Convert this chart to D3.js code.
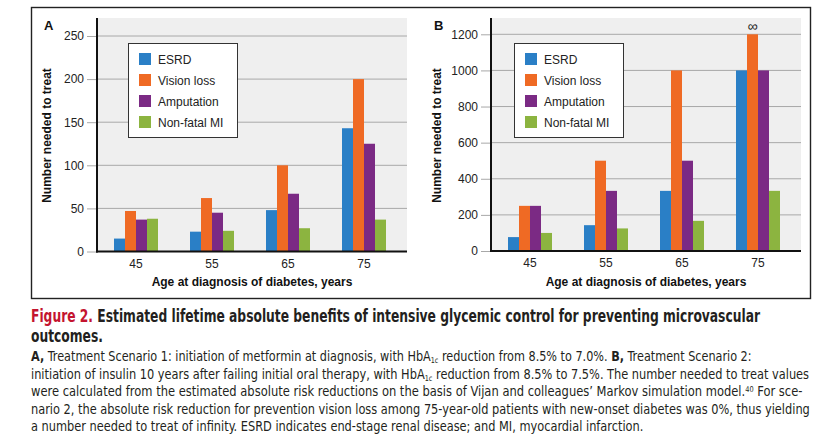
<!DOCTYPE html>
<html><head><meta charset="utf-8">
<script src="https://cdn.jsdelivr.net/npm/d3@7"></script>
<style>
html,body{margin:0;padding:0;background:#fff;}
svg{display:block;}
</style></head>
<body>
<svg id="chart" width="834" height="444"></svg>
<script>
// ---- data ----
const ages = ["45", "55", "65", "75"];
const seriesNames = ["ESRD", "Vision loss", "Amputation", "Non-fatal MI"];
const seriesColors = ["#2a7fc6", "#ef6a24", "#7b2a84", "#8cb440"];

const esrdA = [15, 23, 48, 143];
const visionA = [47, 62, 100, 200];
const amputationA = [37, 45, 67, 125];
const miA = [38, 24, 27, 37];

const esrdB = [77, 143, 333, 1000];
const visionB = [250, 500, 1000, 1200];
const amputationB = [250, 333, 500, 1000];
const miB = [100, 125, 167, 333];

const ticksA = [0, 50, 100, 150, 200, 250];
const ticksB = [0, 200, 400, 600, 800, 1000, 1200];

const panelLabels = ["A", "B"];
const yTitle = "Number needed to treat";
const xTitle = "Age at diagnosis of diabetes, years";
const infinityNote = { age: "75", series: "Vision loss", text: "\u221E" };

// ---- drawing ----
const svg = d3.select("#chart");
const chartFont = "'Liberation Sans', Arial, Helvetica, sans-serif";

svg.append("rect").attr("x", 31.5).attr("y", 7.5).attr("width", 779).attr("height", 291)
  .attr("fill", "none").attr("stroke", "#222").attr("stroke-width", 1.4);

const panels = [
  { label: panelLabels[0], series: [esrdA, visionA, amputationA, miA], ticks: ticksA,
    axisX: 97, band: [98, 402], bgRight: 407, y0: 251.5, yTopPos: 36, legendX: 128, labelX: 44, titleX: 47 },
  { label: panelLabels[1], series: [esrdB, visionB, amputationB, miB], ticks: ticksB,
    axisX: 491, band: [492, 796], bgRight: 801, y0: 251, yTopPos: 34.3, legendX: 514, labelX: 434, titleX: 437 }
];

panels.forEach(p => {
  const g = svg.append("g").attr("font-family", chartFont);
  const yMax = p.ticks[p.ticks.length - 1];
  const y = d3.scaleLinear().domain([0, yMax]).range([p.y0, p.yTopPos]);
  const x0 = d3.scaleBand().domain(ages).range(p.band).paddingInner(0).paddingOuter(0);
  const groupW = 44;
  const x1 = d3.scaleBand().domain(seriesNames)
    .range([(x0.bandwidth() - groupW) / 2, (x0.bandwidth() + groupW) / 2]);

  // background
  g.append("rect").attr("x", p.axisX).attr("y", 18).attr("width", p.bgRight - p.axisX)
    .attr("height", p.y0 - 18).attr("fill", "#efefef");

  // gridlines
  g.append("g").selectAll("line").data(p.ticks.filter(t => t > 0)).join("line")
    .attr("x1", p.axisX).attr("x2", p.bgRight)
    .attr("y1", d => y(d)).attr("y2", d => y(d))
    .attr("stroke", "#a8a8a8").attr("stroke-width", 1);

  // y axis ticks + labels
  const yAxis = d3.axisLeft(y).tickValues(p.ticks).tickSize(10).tickPadding(3).tickFormat(d3.format("d"));
  const ya = g.append("g").attr("transform", `translate(${p.axisX},0)`).call(yAxis);
  ya.select(".domain").remove();
  ya.selectAll(".tick line").attr("stroke", "#a8a8a8");
  ya.selectAll(".tick text").attr("font-size", 12).attr("fill", "#222").attr("font-family", chartFont);

  // bars
  const rows = [];
  ages.forEach((a, i) => seriesNames.forEach((s, j) => rows.push({ age: a, series: s, value: p.series[j][i], color: seriesColors[j] })));
  g.append("g").selectAll("rect").data(rows).join("rect")
    .attr("x", d => x0(d.age) + x1(d.series))
    .attr("width", x1.bandwidth())
    .attr("y", d => y(d.value))
    .attr("height", d => p.y0 - y(d.value))
    .attr("fill", d => d.color);

  // axis lines
  g.append("line").attr("x1", p.axisX).attr("x2", p.axisX).attr("y1", 18).attr("y2", p.y0 + 1)
    .attr("stroke", "#111").attr("stroke-width", 2);
  g.append("line").attr("x1", p.axisX - 1).attr("x2", p.bgRight).attr("y1", p.y0).attr("y2", p.y0)
    .attr("stroke", "#111").attr("stroke-width", 2);

  // x axis labels
  const xAxis = d3.axisBottom(x0).tickSize(0).tickPadding(0);
  const xa = g.append("g").attr("transform", `translate(0,${p.y0})`).call(xAxis);
  xa.select(".domain").remove();
  xa.selectAll(".tick text").attr("font-size", 12).attr("fill", "#222").attr("font-family", chartFont)
    .attr("dy", null).attr("y", 16);

  // titles
  g.append("text").attr("x", (p.axisX + p.bgRight) / 2).attr("y", 286).attr("text-anchor", "middle")
    .attr("font-size", 12).attr("font-weight", "bold").attr("fill", "#111").text(xTitle);
  g.append("text").attr("transform", `translate(${p.titleX + 4},135.5) rotate(-90)`).attr("text-anchor", "middle")
    .attr("font-size", 12).attr("font-weight", "bold").attr("fill", "#111").text(yTitle);
  g.append("text").attr("x", p.labelX).attr("y", 30).attr("font-size", 13).attr("font-weight", "bold")
    .attr("fill", "#111").text(p.label);

  // legend
  const lg = g.append("g").attr("transform", `translate(${p.legendX},43)`);
  lg.append("rect").attr("x", 0.5).attr("y", 0.5).attr("width", 109).attr("height", 94)
    .attr("fill", "#fff").attr("stroke", "#333").attr("stroke-width", 1);
  seriesNames.forEach((s, j) => {
    const cy = 16 + j * 21;
    lg.append("rect").attr("x", 11).attr("y", cy - 6).attr("width", 12).attr("height", 12).attr("fill", seriesColors[j]);
    lg.append("text").attr("x", 30).attr("y", cy + 4.5).attr("font-size", 12).attr("fill", "#222").text(s);
  });

  if (p.label === "B") {
    const v = p.series[seriesNames.indexOf(infinityNote.series)][ages.indexOf(infinityNote.age)];
    g.append("text")
      .attr("x", x0(infinityNote.age) + x1(infinityNote.series) + x1.bandwidth() / 2)
      .attr("y", y(v) - 3).attr("text-anchor", "middle").attr("font-size", 14).attr("fill", "#222")
      .text(infinityNote.text);
  }
});

// ---- caption ----
const capFont = "'Liberation Sans Narrow', 'DejaVu Sans Condensed', 'Arial Narrow', sans-serif";
const capLines = [
  { y: 322.3, w: 730, size: 17, parts: [{ t: "Figure 2.", b: true, c: "#c4142f" }, { t: " Estimated lifetime absolute benefits of intensive glycemic control for preventing microvascular", b: true }] },
  { y: 342.3, w: 0, size: 17, parts: [{ t: "outcomes.", b: true }] },
  { y: 361, w: 721, size: 14, parts: [{ t: "A,", b: true }, { t: " Treatment Scenario 1: initiation of metformin at diagnosis, with HbA" }, { t: "1c", sub: true }, { t: " reduction from 8.5% to 7.0%. " }, { t: "B,", b: true }, { t: " Treatment Scenario 2:" }] },
  { y: 378.5, w: 779, size: 14, parts: [{ t: "initiation of insulin 10 years after failing initial oral therapy, with HbA" }, { t: "1c", sub: true }, { t: " reduction from 8.5% to 7.5%. The number needed to treat values" }] },
  { y: 396, w: 772, size: 14, parts: [{ t: "were calculated from the estimated absolute risk reductions on the basis of Vijan and colleagues\u2019 Markov simulation model." }, { t: "40", sup: true }, { t: " For sce-" }] },
  { y: 413.5, w: 780, size: 14, parts: [{ t: "nario 2, the absolute risk reduction for prevention vision loss among 75-year-old patients with new-onset diabetes was 0%, thus yielding" }] },
  { y: 431, w: 613, size: 14, parts: [{ t: "a number needed to treat of infinity. ESRD indicates end-stage renal disease; and MI, myocardial infarction." }] }
];
capLines.forEach((ln, i) => {
  const g = svg.append("g");
  const txt = g.append("text").attr("x", 0).attr("y", 0).attr("font-family", capFont)
    .attr("font-size", ln.size).attr("fill", "#231f20");
  let shift = 0;
  ln.parts.forEach(pt => {
    const ts = txt.append("tspan").text(pt.t);
    if (pt.b) ts.attr("font-weight", "bold");
    if (pt.c) ts.attr("fill", pt.c);
    if (pt.sub) { ts.attr("font-size", 8).attr("dy", 2 - shift); shift = 2; }
    else if (pt.sup) { ts.attr("font-size", 8).attr("dy", -4.5 - shift); shift = -4.5; }
    else if (shift !== 0) { ts.attr("dy", -shift); shift = 0; }
  });
  let sx = 1;
  const nat = txt.node().getComputedTextLength();
  if (ln.w > 0 && nat > 0) sx = ln.w / nat;
  if (ln.w === 0) sx = capLines[0]._sx || 1;
  ln._sx = sx;
  g.attr("transform", `translate(31,${ln.y}) scale(${sx},1)`);
});
</script>
</body></html>
